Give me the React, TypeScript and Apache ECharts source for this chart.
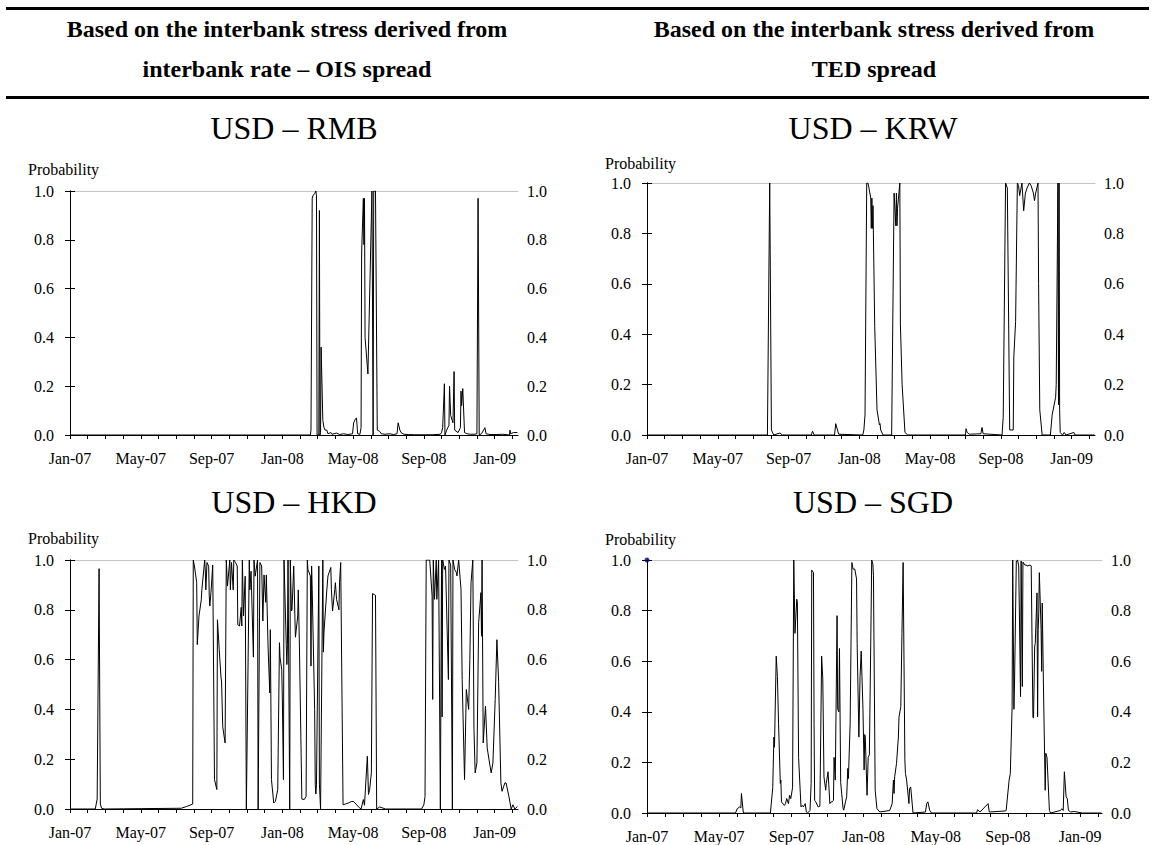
import React, { useEffect, useRef } from "react";
import * as echarts from "echarts";

const FONT = '"Liberation Serif", "Times New Roman", Times, serif';

// Column headings and panel titles
const headerLeft = ["Based on the interbank stress derived from", "interbank rate – OIS spread"];
const headerRight = ["Based on the interbank stress derived from", "TED spread"];
const panelTitles = ["USD – RMB", "USD – KRW", "USD – HKD", "USD – SGD"];
const axisName = "Probability";

// Month labels shown every four months along the date axis
const tickLabels = ["Jan-07", "May-07", "Sep-07", "Jan-08", "May-08", "Sep-08", "Jan-09"];
const firstDate = "2007-01-01";
const lastDates = ["2009-02-10", "2009-02-10", "2009-02-10", "2009-02-07"];

// Regime probabilities (date, probability)
const usdRmb: [string, number][] = [
  ["2007-01-01", 0], ["2007-06-01", 0], ["2007-12-03", 0], ["2008-02-18", 0],
  ["2008-02-19", 0.02], ["2008-02-21", 0.97], ["2008-02-22", 0.98], ["2008-02-25", 0.99],
  ["2008-02-27", 1.0], ["2008-02-28", 0.98], ["2008-02-29", 0.0], ["2008-03-03", 0.0],
  ["2008-03-04", 0.92], ["2008-03-05", 0.0], ["2008-03-06", 0.01], ["2008-03-07", 0.36],
  ["2008-03-10", 0.06], ["2008-03-12", 0.03], ["2008-03-14", 0.02], ["2008-03-17", 0.02],
  ["2008-03-19", 0.005], ["2008-03-24", 0.01], ["2008-03-26", 0.003], ["2008-04-03", 0.008],
  ["2008-04-08", 0.002], ["2008-04-15", 0.005], ["2008-04-22", 0.002], ["2008-04-30", 0.005],
  ["2008-05-02", 0.05], ["2008-05-05", 0.065], ["2008-05-07", 0.07], ["2008-05-09", 0.005],
  ["2008-05-13", 0.003], ["2008-05-15", 0.03], ["2008-05-16", 0.75], ["2008-05-19", 0.97],
  ["2008-05-20", 0.78], ["2008-05-21", 0.97], ["2008-05-22", 0.4], ["2008-05-27", 0.25],
  ["2008-06-03", 1.0], ["2008-06-04", 1.0], ["2008-06-05", 0.0], ["2008-06-06", 1.0],
  ["2008-06-09", 1.0], ["2008-06-12", 0.02], ["2008-06-16", 0.015], ["2008-06-19", 0.005],
  ["2008-06-25", 0.003], ["2008-07-02", 0.005], ["2008-07-10", 0.002], ["2008-07-16", 0.005],
  ["2008-07-18", 0.05], ["2008-07-21", 0.02], ["2008-07-23", 0.01], ["2008-07-28", 0.003],
  ["2008-08-05", 0.002], ["2008-08-15", 0.001], ["2008-09-01", 0.001], ["2008-09-15", 0.001],
  ["2008-09-29", 0.003], ["2008-10-01", 0.01], ["2008-10-03", 0.03], ["2008-10-06", 0.21],
  ["2008-10-07", 0.0], ["2008-10-10", 0.02], ["2008-10-14", 0.04], ["2008-10-15", 0.2],
  ["2008-10-17", 0.08], ["2008-10-21", 0.05], ["2008-10-23", 0.26], ["2008-10-24", 0.02],
  ["2008-10-30", 0.01], ["2008-11-03", 0.03], ["2008-11-04", 0.18], ["2008-11-05", 0.12],
  ["2008-11-07", 0.19], ["2008-11-10", 0.01], ["2008-11-14", 0.005], ["2008-11-20", 0.003],
  ["2008-11-26", 0.003], ["2008-12-01", 0.005], ["2008-12-03", 0.97], ["2008-12-05", 0.0],
  ["2008-12-09", 0.005], ["2008-12-15", 0.03], ["2008-12-17", 0.005], ["2008-12-24", 0.002],
  ["2009-01-05", 0.002], ["2009-01-15", 0.003], ["2009-01-27", 0.0], ["2009-01-28", 0.02],
  ["2009-01-29", 0.005], ["2009-02-03", 0.01], ["2009-02-09", 0.01],
];

const usdKrw: [string, number][] = [
  ["2007-01-01", 0], ["2007-07-26", 0], ["2007-07-30", 1.0], ["2007-08-02", 0.02],
  ["2007-08-06", 0.0], ["2007-08-17", 0.008], ["2007-08-21", 0.0], ["2007-10-10", 0.0],
  ["2007-10-12", 0.015], ["2007-10-15", 0.0], ["2007-11-19", 0.0], ["2007-11-21", 0.045],
  ["2007-11-26", 0.003], ["2008-01-07", 0.0], ["2008-01-09", 0.02], ["2008-01-11", 0.08],
  ["2008-01-14", 1.0], ["2008-01-16", 1.0], ["2008-01-18", 0.98], ["2008-01-21", 0.94],
  ["2008-01-22", 0.82], ["2008-01-23", 0.94], ["2008-01-24", 0.82], ["2008-01-25", 0.91],
  ["2008-01-28", 0.43], ["2008-02-01", 0.1], ["2008-02-05", 0.04], ["2008-02-06", 0.045],
  ["2008-02-07", 0.02], ["2008-02-11", 0.0], ["2008-02-25", 0.0], ["2008-02-29", 0.96],
  ["2008-03-03", 0.83], ["2008-03-04", 0.96], ["2008-03-05", 0.83], ["2008-03-06", 0.9],
  ["2008-03-07", 0.9], ["2008-03-10", 1.0], ["2008-03-11", 0.44], ["2008-03-14", 0.2],
  ["2008-03-19", 0.01], ["2008-03-24", 0.0], ["2008-07-01", 0.0], ["2008-07-02", 0.025],
  ["2008-07-04", 0.01], ["2008-07-08", 0.003], ["2008-07-28", 0.005], ["2008-07-30", 0.03],
  ["2008-08-01", 0.005], ["2008-09-03", 0.0], ["2008-09-05", 0.07], ["2008-09-09", 1.0],
  ["2008-09-12", 0.98], ["2008-09-16", 0.02], ["2008-09-22", 0.02], ["2008-09-23", 0.31],
  ["2008-09-26", 0.45], ["2008-09-29", 1.0], ["2008-10-01", 0.99], ["2008-10-03", 0.95],
  ["2008-10-07", 1.0], ["2008-10-10", 0.89], ["2008-10-13", 0.96], ["2008-10-16", 0.98],
  ["2008-10-20", 1.0], ["2008-10-23", 0.99], ["2008-10-27", 0.96], ["2008-10-29", 0.93],
  ["2008-10-31", 0.96], ["2008-11-04", 1.0], ["2008-11-05", 0.6], ["2008-11-07", 0.1],
  ["2008-11-11", 0.0], ["2008-11-25", 0.0], ["2008-11-28", 0.08], ["2008-12-04", 0.15],
  ["2008-12-05", 0.2], ["2008-12-08", 1.0], ["2008-12-09", 0.12], ["2008-12-10", 1.0],
  ["2008-12-11", 0.1], ["2008-12-12", 0.01], ["2008-12-16", 0.0], ["2008-12-19", 0.01],
  ["2008-12-22", 0.0], ["2009-01-05", 0.01], ["2009-01-07", 0.0], ["2009-02-09", 0.0],
];

const usdHkd: [string, number][] = [
  ["2007-01-01", 0], ["2007-02-13", 0], ["2007-02-16", 0.04], ["2007-02-19", 0.965],
  ["2007-02-21", 0.02], ["2007-02-23", 0.003], ["2007-02-27", 0.0], ["2007-07-10", 0.003],
  ["2007-07-19", 0.01], ["2007-07-27", 0.017], ["2007-07-30", 0.02], ["2007-07-31", 1.0],
  ["2007-08-02", 0.976], ["2007-08-06", 0.91], ["2007-08-07", 0.66], ["2007-08-10", 0.775],
  ["2007-08-14", 0.84], ["2007-08-15", 0.88], ["2007-08-20", 1.0], ["2007-08-21", 0.96],
  ["2007-08-22", 0.88], ["2007-08-24", 0.99], ["2007-08-27", 0.975], ["2007-08-28", 0.855],
  ["2007-08-29", 0.815], ["2007-08-31", 0.87], ["2007-09-03", 0.98], ["2007-09-06", 0.118],
  ["2007-09-10", 0.078], ["2007-09-11", 0.76], ["2007-09-14", 0.64], ["2007-09-17", 0.53],
  ["2007-09-18", 0.51], ["2007-09-20", 0.33], ["2007-09-24", 0.265], ["2007-09-26", 1.0],
  ["2007-09-28", 0.895], ["2007-10-02", 1.0], ["2007-10-03", 0.88], ["2007-10-05", 0.99],
  ["2007-10-08", 0.88], ["2007-10-09", 1.0], ["2007-10-12", 0.99], ["2007-10-15", 0.976],
  ["2007-10-16", 0.74], ["2007-10-19", 0.735], ["2007-10-22", 0.81], ["2007-10-23", 0.735],
  ["2007-10-24", 1.0], ["2007-10-26", 0.775], ["2007-10-29", 0.935], ["2007-10-31", 0.0],
  ["2007-11-05", 1.0], ["2007-11-06", 0.88], ["2007-11-08", 0.955], ["2007-11-12", 0.61],
  ["2007-11-13", 1.0], ["2007-11-15", 0.935], ["2007-11-19", 1.0], ["2007-11-20", 0.0],
  ["2007-11-23", 0.99], ["2007-11-26", 0.976], ["2007-11-28", 0.755], ["2007-11-30", 0.94],
  ["2007-12-03", 0.83], ["2007-12-04", 0.94], ["2007-12-07", 0.655], ["2007-12-10", 0.466],
  ["2007-12-11", 0.72], ["2007-12-12", 0.426], ["2007-12-13", 0.118], ["2007-12-17", 0.024],
  ["2007-12-20", 0.031], ["2007-12-24", 0.078], ["2007-12-27", 0.668], ["2007-12-28", 0.61],
  ["2007-12-31", 0.56], ["2008-01-01", 0.45], ["2008-01-03", 0.118], ["2008-01-04", 1.0],
  ["2008-01-08", 0.654], ["2008-01-09", 0.58], ["2008-01-10", 0.66], ["2008-01-11", 1.0],
  ["2008-01-14", 0.0], ["2008-01-15", 1.0], ["2008-01-17", 0.795], ["2008-01-18", 0.8],
  ["2008-01-21", 0.976], ["2008-01-23", 0.775], ["2008-01-24", 0.69], ["2008-01-28", 0.775],
  ["2008-01-29", 0.88], ["2008-01-31", 0.654], ["2008-02-04", 0.04], ["2008-02-08", 0.038],
  ["2008-02-11", 0.051], ["2008-02-13", 1.0], ["2008-02-14", 0.962], ["2008-02-18", 0.936],
  ["2008-02-19", 0.574], ["2008-02-20", 0.976], ["2008-02-21", 0.882], ["2008-02-25", 0.4],
  ["2008-02-26", 0.1], ["2008-02-27", 0.06], ["2008-02-28", 0.1], ["2008-03-03", 0.976],
  ["2008-03-04", 0.1], ["2008-03-06", 0.0], ["2008-03-10", 1.0], ["2008-03-11", 0.63],
  ["2008-03-12", 0.71], ["2008-03-17", 0.88], ["2008-03-19", 0.936], ["2008-03-24", 0.97],
  ["2008-03-25", 0.882], ["2008-03-27", 0.795], ["2008-03-31", 0.882], ["2008-04-01", 0.909],
  ["2008-04-03", 0.842], ["2008-04-07", 0.8], ["2008-04-08", 0.909], ["2008-04-10", 0.99],
  ["2008-04-14", 0.017], ["2008-04-18", 0.02], ["2008-04-23", 0.024], ["2008-04-28", 0.03],
  ["2008-05-02", 0.03], ["2008-05-06", 0.02], ["2008-05-12", 0.005], ["2008-05-15", 0.0],
  ["2008-05-19", 0.038], ["2008-05-21", 0.015], ["2008-05-26", 0.212], ["2008-05-28", 0.058],
  ["2008-05-30", 0.078], ["2008-06-02", 0.145], ["2008-06-04", 0.865], ["2008-06-09", 0.858],
  ["2008-06-11", 0.0], ["2008-06-16", 0.008], ["2008-06-20", 0.005], ["2008-06-26", 0.0],
  ["2008-08-28", 0.0], ["2008-09-01", 0.017], ["2008-09-03", 0.05], ["2008-09-05", 1.0],
  ["2008-09-11", 1.0], ["2008-09-15", 0.855], ["2008-09-16", 0.44], ["2008-09-17", 1.0],
  ["2008-09-19", 0.842], ["2008-09-22", 1.0], ["2008-09-23", 0.842], ["2008-09-26", 1.0],
  ["2008-09-29", 0.0], ["2008-10-01", 1.0], ["2008-10-02", 0.37], ["2008-10-03", 1.0],
  ["2008-10-06", 0.962], ["2008-10-08", 0.976], ["2008-10-13", 0.52], ["2008-10-14", 1.0],
  ["2008-10-17", 0.98], ["2008-10-20", 0.0], ["2008-10-21", 1.0], ["2008-10-24", 0.962],
  ["2008-10-27", 0.95], ["2008-10-28", 0.936], ["2008-10-31", 1.0], ["2008-11-04", 0.882],
  ["2008-11-06", 0.52], ["2008-11-10", 0.118], ["2008-11-13", 0.48], ["2008-11-17", 0.4],
  ["2008-11-19", 0.6], ["2008-11-21", 0.909], ["2008-11-24", 1.0], ["2008-11-26", 0.32],
  ["2008-11-28", 0.145], ["2008-12-01", 0.185], ["2008-12-04", 0.748], ["2008-12-08", 0.869],
  ["2008-12-09", 0.694], ["2008-12-10", 1.0], ["2008-12-12", 0.265], ["2008-12-16", 0.413],
  ["2008-12-19", 0.245], ["2008-12-24", 0.172], ["2008-12-26", 0.145], ["2008-12-29", 0.185],
  ["2009-01-02", 0.44], ["2009-01-05", 0.68], ["2009-01-08", 0.513], ["2009-01-12", 0.105],
  ["2009-01-14", 0.071], ["2009-01-19", 0.105], ["2009-01-21", 0.105], ["2009-01-26", 0.051],
  ["2009-01-30", 0.0], ["2009-02-02", 0.017], ["2009-02-05", 0.0], ["2009-02-09", 0.01],
];

const usdSgd: [string, number][] = [
  ["2007-01-01", 0], ["2007-05-29", 0.0], ["2007-06-01", 0.017], ["2007-06-05", 0.024],
  ["2007-06-07", 0.02], ["2007-06-08", 0.077], ["2007-06-11", 0.004], ["2007-06-12", 0.0],
  ["2007-07-27", 0.0], ["2007-07-31", 0.1], ["2007-08-02", 0.3], ["2007-08-03", 0.26],
  ["2007-08-06", 0.62], ["2007-08-08", 0.54], ["2007-08-10", 0.355], ["2007-08-13", 0.117],
  ["2007-08-14", 0.13], ["2007-08-15", 0.044], ["2007-08-20", 0.03], ["2007-08-22", 0.037],
  ["2007-08-24", 0.057], ["2007-08-27", 0.037], ["2007-08-29", 0.07], ["2007-08-31", 0.057],
  ["2007-09-03", 0.1], ["2007-09-05", 1.0], ["2007-09-07", 0.71], ["2007-09-10", 0.845],
  ["2007-09-11", 0.83], ["2007-09-13", 0.22], ["2007-09-17", 0.024], ["2007-09-19", 0.03],
  ["2007-09-21", 0.024], ["2007-09-24", 0.037], ["2007-09-26", 0.004], ["2007-09-28", 0.0],
  ["2007-10-02", 0.01], ["2007-10-04", 0.117], ["2007-10-05", 0.96], ["2007-10-08", 0.95],
  ["2007-10-09", 0.355], ["2007-10-10", 0.05], ["2007-10-12", 0.044], ["2007-10-16", 0.024],
  ["2007-10-19", 0.027], ["2007-10-22", 0.62], ["2007-10-24", 0.53], ["2007-10-26", 0.143],
  ["2007-10-29", 0.09], ["2007-10-30", 0.117], ["2007-11-02", 0.163], ["2007-11-05", 0.037],
  ["2007-11-07", 0.044], ["2007-11-09", 0.044], ["2007-11-11", 0.05], ["2007-11-12", 0.22],
  ["2007-11-14", 0.13], ["2007-11-17", 0.78], ["2007-11-18", 0.41], ["2007-11-20", 0.4],
  ["2007-11-21", 0.65], ["2007-11-23", 0.12], ["2007-11-27", 0.017], ["2007-11-28", 0.011],
  ["2007-12-01", 0.044], ["2007-12-03", 0.064], ["2007-12-05", 0.176], ["2007-12-06", 0.136],
  ["2007-12-09", 0.355], ["2007-12-12", 0.99], ["2007-12-14", 0.964], ["2007-12-17", 0.964],
  ["2007-12-20", 0.925], ["2007-12-21", 0.67], ["2007-12-24", 0.3], ["2007-12-26", 0.54],
  ["2007-12-28", 0.64], ["2007-12-31", 0.41], ["2008-01-02", 0.17], ["2008-01-03", 0.31],
  ["2008-01-04", 0.3], ["2008-01-07", 0.07], ["2008-01-09", 0.22], ["2008-01-11", 0.23],
  ["2008-01-14", 0.79], ["2008-01-15", 1.0], ["2008-01-17", 0.984], ["2008-01-18", 0.94],
  ["2008-01-21", 0.09], ["2008-01-24", 0.017], ["2008-01-29", 0.004], ["2008-02-14", 0.01],
  ["2008-02-18", 0.037], ["2008-02-20", 0.13], ["2008-02-21", 0.077], ["2008-02-22", 0.143],
  ["2008-02-25", 0.196], ["2008-02-28", 0.3], ["2008-02-29", 0.38], ["2008-03-03", 0.42],
  ["2008-03-05", 0.71], ["2008-03-07", 0.99], ["2008-03-10", 0.21], ["2008-03-11", 0.156],
  ["2008-03-13", 0.13], ["2008-03-17", 0.037], ["2008-03-18", 0.096], ["2008-03-20", 0.103],
  ["2008-03-24", 0.0], ["2008-04-14", 0.004], ["2008-04-16", 0.037], ["2008-04-18", 0.044],
  ["2008-04-21", 0.01], ["2008-04-24", 0.0], ["2008-07-09", 0.0], ["2008-07-11", 0.013],
  ["2008-07-15", 0.004], ["2008-07-29", 0.037], ["2008-07-31", 0.004], ["2008-08-27", 0.008],
  ["2008-08-29", 0.01], ["2008-09-03", 0.13], ["2008-09-05", 0.156], ["2008-09-08", 0.42],
  ["2008-09-09", 1.0], ["2008-09-11", 0.41], ["2008-09-12", 0.51], ["2008-09-15", 0.996],
  ["2008-09-17", 1.0], ["2008-09-19", 0.976], ["2008-09-22", 0.46], ["2008-09-23", 0.996],
  ["2008-09-25", 0.5], ["2008-09-26", 0.992], ["2008-09-29", 0.98], ["2008-10-02", 0.98],
  ["2008-10-03", 0.976], ["2008-10-08", 0.98], ["2008-10-10", 0.977], ["2008-10-13", 0.38],
  ["2008-10-14", 0.375], ["2008-10-16", 0.66], ["2008-10-17", 0.67], ["2008-10-20", 0.87],
  ["2008-10-21", 0.38], ["2008-10-22", 0.725], ["2008-10-23", 0.79], ["2008-10-24", 0.95],
  ["2008-10-27", 0.725], ["2008-10-28", 0.56], ["2008-10-29", 0.83], ["2008-10-31", 0.51],
  ["2008-11-03", 0.09], ["2008-11-04", 0.236], ["2008-11-06", 0.22], ["2008-11-10", 0.01],
  ["2008-11-12", 0.0], ["2008-11-28", 0.01], ["2008-12-01", 0.017], ["2008-12-03", 0.01],
  ["2008-12-05", 0.163], ["2008-12-08", 0.064], ["2008-12-10", 0.057], ["2008-12-12", 0.01],
  ["2008-12-16", 0.004], ["2008-12-22", 0.006], ["2009-01-05", 0.0], ["2009-02-06", 0.0],
];

// Stray marker sitting at the start of the SGD panel
const sgdMarker: [string, number][] = [["2007-01-01", 1.0]];

const seriesData = [usdRmb, usdKrw, usdHkd, usdSgd];

// Panel geometry (pixels)
const panels = [
  { left: 70, top: 191, width: 448, height: 244, title: [294, 128], name: [28, 169] },
  { left: 647, top: 183, width: 448, height: 252, title: [873, 128], name: [605, 163] },
  { left: 70, top: 560, width: 448, height: 249, title: [294, 502], name: [28, 538] },
  { left: 647, top: 560, width: 455, height: 253, title: [873, 502], name: [605, 539] },
];

// Fractional months elapsed since January 2007
function monthIndex(d: string): number {
  const [y, m, day] = d.split("-").map(Number);
  const daysInMonth = new Date(y, m, 0).getDate();
  return (y - 2007) * 12 + (m - 1) + (day - 1) / daysInMonth;
}

function buildOption(): echarts.EChartsOption {
  const textStyle = { fontFamily: FONT, color: "#000" };
  const bottomX = panels.map((p, i) => ({
    type: "value" as const,
    gridIndex: i,
    position: "bottom" as const,
    min: monthIndex(firstDate),
    max: monthIndex(lastDates[i]),
    interval: 1,
    axisLine: { show: true, onZero: false, lineStyle: { color: "#000", width: 1 } },
    axisTick: { show: true, length: 4, lineStyle: { color: "#000" } },
    axisLabel: {
      margin: 15,
      fontSize: 16,
      ...textStyle,
      showMaxLabel: false,
      formatter: (v: number) => {
        const k = Math.round(v);
        if (Math.abs(v - k) > 1e-6 || k % 4 !== 0) return "";
        return tickLabels[k / 4] ?? "";
      },
    },
    splitLine: { show: false },
  }));
  const topX = panels.map((p, i) => ({
    type: "value" as const,
    gridIndex: i,
    position: "top" as const,
    min: monthIndex(firstDate),
    max: monthIndex(lastDates[i]),
    axisLine: { show: true, onZero: false, lineStyle: { color: "#c4c4c4", width: 1 } },
    axisTick: { show: false },
    axisLabel: { show: false },
    splitLine: { show: false },
  }));
  const yCommon = (i: number, side: "left" | "right") => ({
    type: "value" as const,
    gridIndex: i,
    position: side,
    min: 0,
    max: 1,
    interval: 0.2,
    axisLine: { show: true, lineStyle: { color: "#000", width: 1 } },
    axisTick: { show: true, length: 5, lineStyle: { color: "#000" } },
    axisLabel: {
      margin: side === "left" ? 16 : 9,
      fontSize: 16,
      ...textStyle,
      formatter: (v: number) => v.toFixed(1),
    },
    splitLine: { show: false },
  });
  const leftY = panels.map((p, i) => yCommon(i, "left"));
  const rightY = panels.map((p, i) => yCommon(i, "right"));

  const lines: any[] = seriesData.map((data, i) => ({
    type: "line",
    xAxisIndex: i,
    yAxisIndex: i,
    showSymbol: false,
    symbol: "none",
    silent: true,
    lineStyle: { color: "#000", width: 1 },
    data: data.map(([d, v]) => [monthIndex(d), v]),
  }));
  lines.push({
    type: "scatter",
    xAxisIndex: 3,
    yAxisIndex: 3,
    symbolSize: 5,
    clip: false,
    silent: true,
    itemStyle: { color: "#000080" },
    data: sgdMarker.map(([d, v]) => [monthIndex(d), v]),
  });

  const graphic: any[] = [
    { type: "line", shape: { x1: 6, y1: 8.5, x2: 1149, y2: 8.5 }, style: { stroke: "#000", lineWidth: 3 } },
    { type: "line", shape: { x1: 6, y1: 97.5, x2: 1149, y2: 97.5 }, style: { stroke: "#000", lineWidth: 3 } },
  ];
  const headerFont = `bold 24px ${FONT}`;
  [headerLeft, headerRight].forEach((lines2, c) => {
    lines2.forEach((t, r) => {
      graphic.push({
        type: "text",
        style: {
          text: t,
          x: c === 0 ? 287 : 874,
          y: r === 0 ? 29 : 69,
          font: headerFont,
          fill: "#000",
          textAlign: "center",
          textVerticalAlign: "middle",
        },
      });
    });
  });
  panels.forEach((p, i) => {
    graphic.push({
      type: "text",
      style: {
        text: panelTitles[i],
        x: p.title[0],
        y: p.title[1],
        font: `32px ${FONT}`,
        fill: "#000",
        textAlign: "center",
        textVerticalAlign: "middle",
      },
    });
    graphic.push({
      type: "text",
      style: {
        text: axisName,
        x: p.name[0],
        y: p.name[1],
        font: `16px ${FONT}`,
        fill: "#000",
        textAlign: "left",
        textVerticalAlign: "middle",
      },
    });
  });

  return {
    animation: false,
    backgroundColor: "#fff",
    grid: panels.map((p) => ({ left: p.left, top: p.top, width: p.width, height: p.height, containLabel: false })),
    xAxis: [...bottomX, ...topX] as any,
    yAxis: [...leftY, ...rightY] as any,
    series: lines,
    graphic,
  };
}

export default function App() {
  const ref = useRef<HTMLDivElement>(null);
  useEffect(() => {
    if (!ref.current) return;
    const chart = echarts.init(ref.current, undefined, { renderer: "svg" });
    chart.setOption(buildOption());
    return () => chart.dispose();
  }, []);
  return (
    <div
      ref={ref}
      style={{ position: "absolute", left: 0, top: 0, width: 1155, height: 845, background: "#fff" }}
    />
  );
}
